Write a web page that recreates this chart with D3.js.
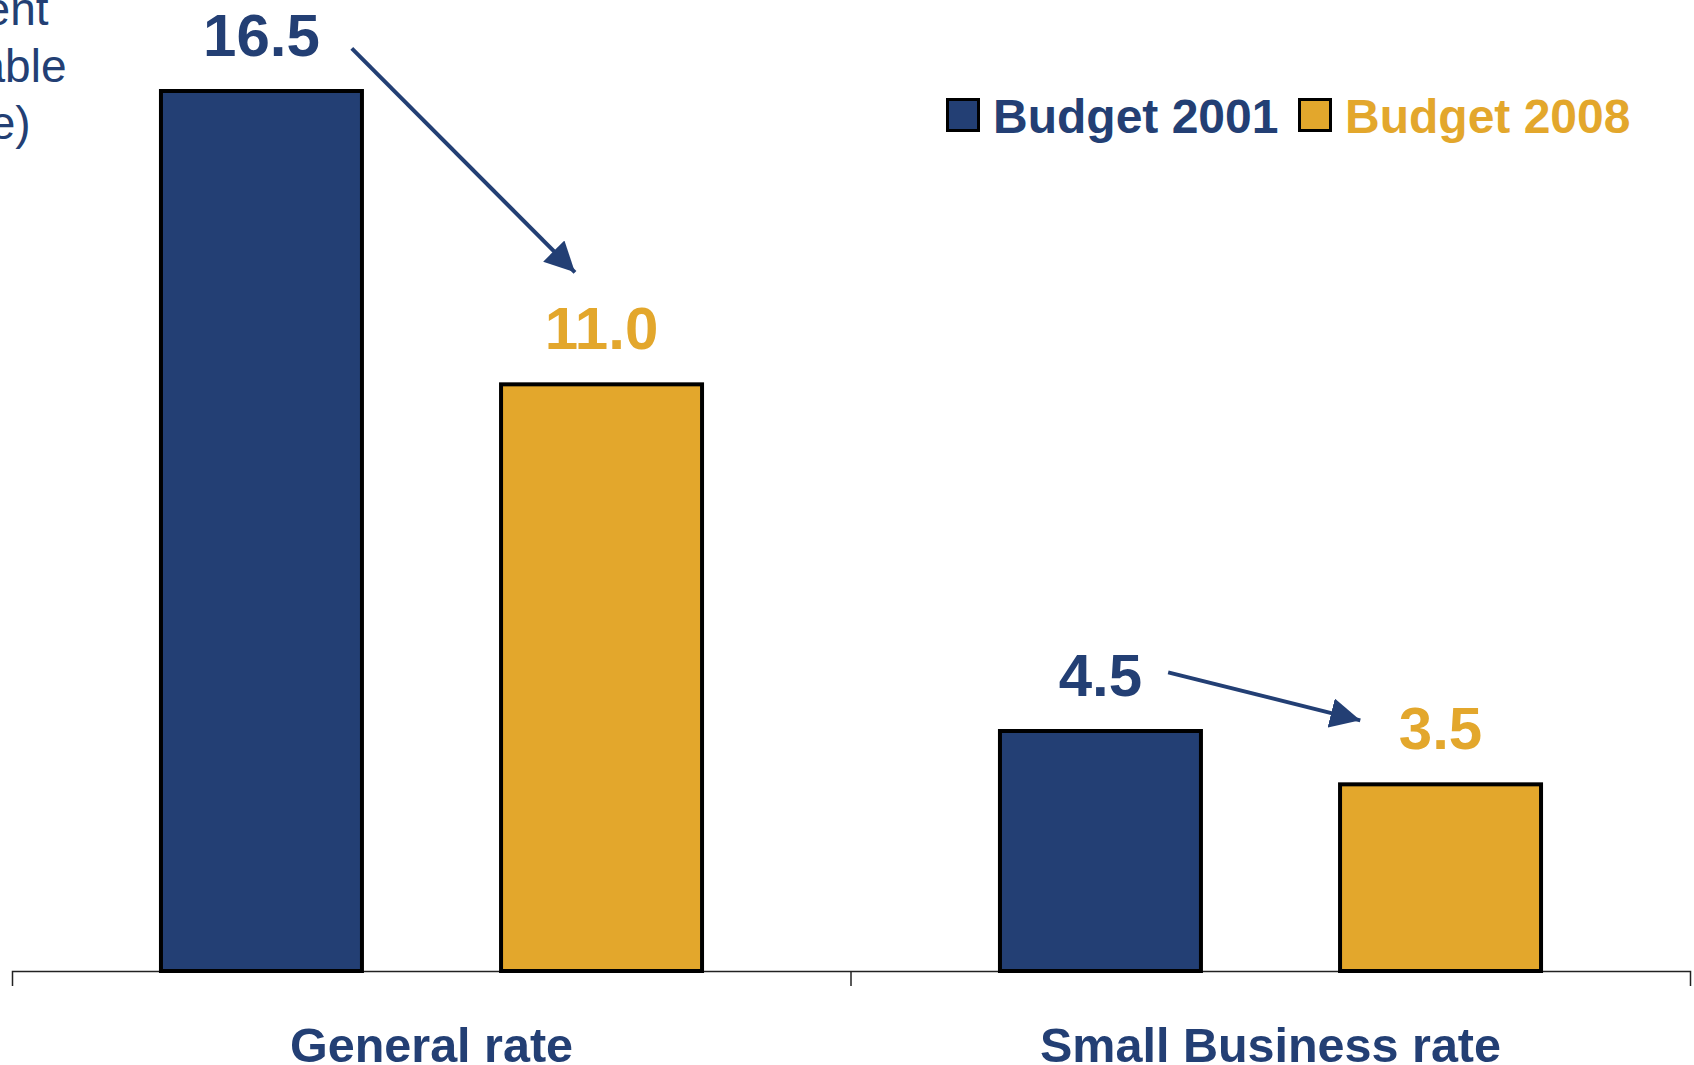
<!DOCTYPE html>
<html>
<head>
<meta charset="utf-8">
<script src="https://cdn.jsdelivr.net/npm/d3@7"></script>
<style>
  html, body { margin: 0; padding: 0; background: #fff; }
  svg { display: block; font-family: "Liberation Sans", Arial, sans-serif; }
</style>
</head>
<body>
<svg width="1694" height="1065"></svg>
<script>
(function() {
    const svg = d3.select('svg');

    // data
    const categories = ['General rate', 'Small Business rate'];
    const seriesNames = ['Budget 2001', 'Budget 2008'];
    const budget2001 = [16.5, 4.5];
    const budget2008 = [11.0, 3.5];
    const yTitleLines = ['(per cent', 'of taxable', 'income)'];
    // arrows: [category, x-fraction within group, value] from -> to
    const arrowFrom = [[0, 0.405, 17.3], [1, 0.378, 5.6]];
    const arrowTo   = [[0, 0.671, 13.1], [1, 0.607, 4.7]];

    const NAVY = '#233f74';
    const GOLD = '#e3a72c';
    const color = d3.scaleOrdinal().domain(seriesNames).range([NAVY, GOLD]);

    const rows = categories.map((c, i) => ({
        cat: c,
        values: [
            { key: seriesNames[0], value: budget2001[i] },
            { key: seriesNames[1], value: budget2008[i] }
        ]
    }));

    const x0 = d3.scaleBand().domain(categories).range([12, 1690]).paddingInner(0).paddingOuter(0);
    const x1 = d3.scaleBand().domain(seriesNames).range([0, x0.bandwidth()])
        .paddingInner(0.409).paddingOuter(0.438);
    const y = d3.scaleLinear().domain([0, 18]).range([971, 11]);

    // axis: line + ticks at group boundaries
    const axis = d3.axisBottom(x0).tickSize(0).tickSizeOuter(15).tickPadding(57);
    const gx = svg.append('g')
        .attr('transform', `translate(0,${y(0)})`)
        .call(axis);
    gx.select('.domain').attr('stroke', '#222').attr('stroke-width', 1.5);
    gx.selectAll('.tick text')
        .attr('fill', NAVY)
        .attr('font-size', 48.5)
        .attr('font-weight', 'bold')
        .attr('font-family', '"Liberation Sans", Arial, sans-serif');
    gx.append('line')
        .attr('x1', x0(categories[1])).attr('x2', x0(categories[1]))
        .attr('y1', 0).attr('y2', 15)
        .attr('stroke', '#222').attr('stroke-width', 1.5);

    // bars
    const groups = svg.append('g').selectAll('g')
        .data(rows)
        .join('g')
        .attr('transform', d => `translate(${x0(d.cat)},0)`);

    groups.selectAll('rect')
        .data(d => d.values)
        .join('rect')
        .attr('x', d => x1(d.key))
        .attr('y', d => y(d.value))
        .attr('width', x1.bandwidth())
        .attr('height', d => y(0) - y(d.value))
        .attr('fill', d => color(d.key))
        .attr('stroke', '#000')
        .attr('stroke-width', 4);

    groups.selectAll('text.val')
        .data(d => d.values)
        .join('text')
        .attr('class', 'val')
        .attr('x', d => x1(d.key) + x1.bandwidth() / 2)
        .attr('y', d => y(d.value) - 35)
        .attr('text-anchor', 'middle')
        .attr('font-size', 60)
        .attr('font-weight', 'bold')
        .attr('fill', d => color(d.key))
        .text(d => d.value.toFixed(1));

    // arrows
    svg.append('defs').append('marker')
        .attr('id', 'head')
        .attr('viewBox', '0 0 10 10')
        .attr('refX', 10).attr('refY', 5)
        .attr('markerWidth', 7.5).attr('markerHeight', 7.5)
        .attr('markerUnits', 'strokeWidth')
        .attr('orient', 'auto')
        .append('path')
        .attr('d', 'M0,0 L10,5 L0,10 Z')
        .attr('fill', NAVY);

    const px = a => x0(categories[a[0]]) + a[1] * x0.bandwidth();
    svg.append('g').selectAll('line')
        .data(arrowFrom.map((f, i) => [f, arrowTo[i]]))
        .join('line')
        .attr('x1', d => px(d[0])).attr('y1', d => y(d[0][2]))
        .attr('x2', d => px(d[1])).attr('y2', d => y(d[1][2]))
        .attr('stroke', NAVY)
        .attr('stroke-width', 4)
        .attr('marker-end', 'url(#head)');

    // legend
    const legendX = [946, 1298];
    const legend = svg.append('g').selectAll('g')
        .data(seriesNames)
        .join('g')
        .attr('transform', (d, i) => `translate(${legendX[i]},98)`);
    legend.append('rect')
        .attr('x', 1.5).attr('y', 1.5)
        .attr('width', 31).attr('height', 31)
        .attr('fill', d => color(d))
        .attr('stroke', '#000')
        .attr('stroke-width', 3);
    legend.append('text')
        .attr('x', 47).attr('y', 35)
        .attr('font-size', 48)
        .attr('font-weight', 'bold')
        .attr('fill', d => color(d))
        .text(d => d);

    // y title (cut off at the left edge)
    svg.append('text')
        .attr('font-size', 46)
        .attr('fill', NAVY)
        .selectAll('tspan')
        .data(yTitleLines)
        .join('tspan')
        .attr('x', -133)
        .attr('y', (d, i) => 25 + i * 57)
        .text(d => d);
})();
</script>
</body>
</html>
